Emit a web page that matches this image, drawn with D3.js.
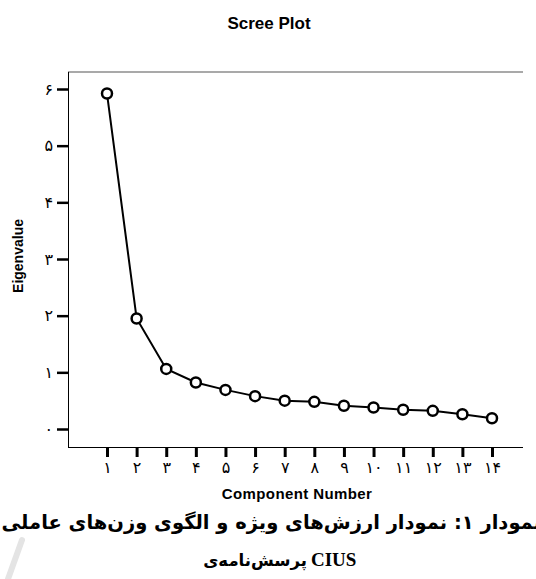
<!DOCTYPE html>
<html>
<head>
<meta charset="utf-8">
<script src="https://cdn.jsdelivr.net/npm/d3@7"></script>
<style>
  body { margin: 0; background: #fff; }
  svg { display: block; }
</style>
</head>
<body>
<div class="canvas"></div>
<script>
/**
 * Data
 */
const components = [1, 2, 3, 4, 5, 6, 7, 8, 9, 10, 11, 12, 13, 14]
const eigenvalues = [5.92, 1.95, 1.06, 0.82, 0.69, 0.58, 0.50, 0.48, 0.41, 0.38, 0.34, 0.32, 0.26, 0.19]
const xTickLabels = ["۱", "۲", "۳", "۴", "۵", "۶", "۷", "۸", "۹", "۱۰", "۱۱", "۱۲", "۱۳", "۱۴"]
const yTicks = [0, 1, 2, 3, 4, 5, 6]
const yTickLabels = ["۰", "۱", "۲", "۳", "۴", "۵", "۶"]

const title = "Scree Plot"
const xTitle = "Component Number"
const yTitle = "Eigenvalue"
const caption1 = "نمودار ۱: نمودار ارزش‌های ویژه و الگوی وزن‌های عاملی"
const caption2 = "پرسش‌نامه‌ی"
const caption2Latin = "CIUS"

/**
 * Dimensions
 */
const dims = { width: 536, height: 579 }
const box = { left: 68, top: 72, right: 523, bottom: 447 }

const svg = d3.select(".canvas")
    .append("svg")
    .attr("width", dims.width)
    .attr("height", dims.height)

const x = d3.scaleLinear()
    .domain([1, 14])
    .range([107, 492])

const y = d3.scaleLinear()
    .domain([0, 6])
    .range([429, 89])

// frame: grey top rule, black left and bottom lines
svg.append("line")
    .attr("x1", box.left).attr("x2", box.right)
    .attr("y1", box.top).attr("y2", box.top)
    .attr("stroke", "#8c8c8c")
    .attr("stroke-width", 1.5)

svg.append("line")
    .attr("x1", box.left + 0.5).attr("x2", box.left + 0.5)
    .attr("y1", box.top).attr("y2", box.bottom)
    .attr("stroke", "#000")

svg.append("line")
    .attr("x1", box.left).attr("x2", box.right)
    .attr("y1", box.bottom + 0.5).attr("y2", box.bottom + 0.5)
    .attr("stroke", "#000")

/**
 * Axes
 */
const yAxis = svg.append("g")
    .attr("transform", `translate(${box.left}, 0)`)
    .call(d3.axisLeft(y)
        .tickValues(yTicks)
        .tickSize(11)
        .tickPadding(4)
        .tickFormat((d, i) => yTickLabels[i]))

const xAxis = svg.append("g")
    .attr("transform", `translate(0, ${box.bottom})`)
    .call(d3.axisBottom(x)
        .tickValues(components)
        .tickSize(10)
        .tickPadding(5)
        .tickFormat((d, i) => xTickLabels[i]))

svg.selectAll(".domain").remove()

yAxis.selectAll(".tick line")
    .attr("stroke", "#000")
    .attr("stroke-width", 2.5)

xAxis.selectAll(".tick line")
    .attr("stroke", "#000")
    .attr("stroke-width", 3)

svg.selectAll(".tick text")
    .attr("fill", "#000")
    .attr("font-family", "DejaVu Sans, sans-serif")
    .attr("font-size", 16)

/**
 * Line and markers
 */
const pts = components.map((c, i) => ({ c, v: eigenvalues[i] }))

svg.append("path")
    .datum(pts)
    .attr("fill", "none")
    .attr("stroke", "#000")
    .attr("stroke-width", 2)
    .attr("d", d3.line()
        .x(d => x(d.c))
        .y(d => y(d.v)))

svg.selectAll(".pt")
    .data(pts)
    .enter()
    .append("circle")
        .attr("class", "pt")
        .attr("cx", d => x(d.c))
        .attr("cy", d => y(d.v))
        .attr("r", 5)
        .attr("fill", "#fff")
        .attr("stroke", "#000")
        .attr("stroke-width", 2.5)

/**
 * Titles
 */
svg.append("text")
    .attr("x", 269)
    .attr("y", 29)
    .attr("text-anchor", "middle")
    .attr("font-family", "Liberation Sans, Arial, sans-serif")
    .attr("font-weight", "bold")
    .attr("font-size", 17)
    .text(title)

svg.append("text")
    .attr("x", 297)
    .attr("y", 499)
    .attr("text-anchor", "middle")
    .attr("font-family", "Liberation Sans, Arial, sans-serif")
    .attr("font-weight", "bold")
    .attr("font-size", 15)
    .attr("letter-spacing", 0.4)
    .text(xTitle)

svg.append("text")
    .attr("transform", "translate(23, 256) rotate(-90)")
    .attr("text-anchor", "middle")
    .attr("font-family", "Liberation Sans, Arial, sans-serif")
    .attr("font-weight", "bold")
    .attr("font-size", 14)
    .text(yTitle)

// caption below the chart
svg.append("text")
    .attr("x", 541)
    .attr("y", 529)
    .attr("text-anchor", "end")
    .attr("font-family", "DejaVu Sans, sans-serif")
    .attr("font-weight", "bold")
    .attr("font-size", 19.5)
    .text(caption1)

svg.append("text")
    .attr("x", 307)
    .attr("y", 566)
    .attr("text-anchor", "end")
    .attr("font-family", "DejaVu Sans, sans-serif")
    .attr("font-weight", "bold")
    .attr("font-size", 16.5)
    .text(caption2)

svg.append("text")
    .attr("x", 311)
    .attr("y", 566)
    .attr("font-family", "Liberation Serif, Times New Roman, serif")
    .attr("font-weight", "bold")
    .attr("font-size", 19)
    .text(caption2Latin)

// faint grey stroke at bottom left
svg.append("path")
    .attr("d", "M8,579 L22,540")
    .attr("stroke", "#e4e4e4")
    .attr("stroke-width", 6)
    .attr("stroke-linecap", "round")
</script>
</body>
</html>
